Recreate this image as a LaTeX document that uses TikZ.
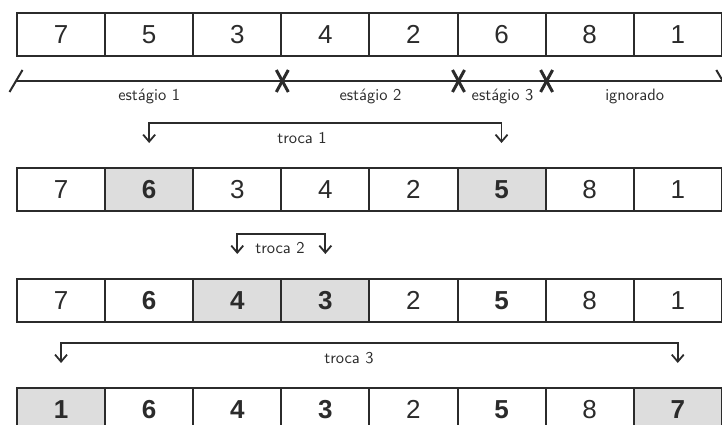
\documentclass[tikz,border=0pt]{standalone}
\usepackage{fontspec}
\newfontfamily\digitfont{Liberation Sans}
\newfontfamily\lblfont{lmsans10-regular.otf}
\usetikzlibrary{arrows.meta,calc}
\definecolor{cellgray}{HTML}{DDDDDD}
\definecolor{ink}{HTML}{2B2B2B}
\tikzset{
  cell/.style={draw=ink, line width=2pt, minimum width=88.1pt, minimum height=43pt,
    inner sep=0pt, anchor=north west, text=ink,
    font=\digitfont\fontsize{26}{26}\selectfont},
  lbl/.style={font=\lblfont\fontsize{16.5}{18}\selectfont, text=ink, inner sep=0pt},
  axis/.style={draw=ink, line width=2pt},
  xmark/.style={draw=ink, line width=3pt},
  swap/.style={draw=ink, line width=1.8pt,
    {Straight Barb[length=7pt,width=12pt]}-{Straight Barb[length=7pt,width=12pt]}},
}
\begin{document}
\begin{tikzpicture}[x=1pt,y=-1pt]
\useasboundingbox (0,0) rectangle (722,425);
% row 1
\foreach \v [count=\i] in {7,5,3,4,2,6,8,1}
  \node[cell] (a\i) at ({16+88.1*(\i-1)},12) {\v};
% row 2
\foreach \v/\f/\w [count=\i] in {7/white/\mdseries,6/cellgray/\bfseries,3/white/\mdseries,4/white/\mdseries,2/white/\mdseries,5/cellgray/\bfseries,8/white/\mdseries,1/white/\mdseries}
  \node[cell,fill=\f] (b\i) at ({16+88.1*(\i-1)},167) {\w\v};
% row 3
\foreach \v/\f/\w [count=\i] in {7/white/\mdseries,6/white/\bfseries,4/cellgray/\bfseries,3/cellgray/\bfseries,2/white/\mdseries,5/white/\bfseries,8/white/\mdseries,1/white/\mdseries}
  \node[cell,fill=\f] (c\i) at ({16+88.1*(\i-1)},278) {\w\v};
% row 4
\foreach \v/\f/\w [count=\i] in {1/cellgray/\bfseries,6/white/\bfseries,4/white/\bfseries,3/white/\bfseries,2/white/\mdseries,5/white/\bfseries,8/white/\mdseries,7/cellgray/\bfseries}
  \node[cell,fill=\f] (d\i) at ({16+88.1*(\i-1)},387) {\w\v};

% timeline
\coordinate (t0) at ($(a1.south west)+(0,24)$);
\coordinate (t1) at ($(a8.south east)+(0,24)$);
\coordinate (x1) at ($(a3.south east)+(0,24)$);
\coordinate (x2) at ($(a5.south east)+(0,24)$);
\coordinate (x3) at ($(a6.south east)+(0,24)$);
\draw[axis] (t0) -- (t1);
\draw[axis] ($(t0)+(-6.5,11)$) -- ($(t0)+(6.5,-11)$);
\draw[axis] ($(t1)+(-6.5,-11)$) -- ($(t1)+(6.5,11)$);
\foreach \c in {x1,x2,x3}{
  \draw[xmark] ($(\c)+(-6,-11)$) -- ($(\c)+(6,11)$);
  \draw[xmark] ($(\c)+(6,-11)$) -- ($(\c)+(-6,11)$);
}
\node[lbl] (s1) at ($(t0)!0.5!(x1)+(0,15)$) {estágio 1};
\node[lbl] (s2) at ($(x1)!0.5!(x2)+(0,15)$) {estágio 2};
\node[lbl] (s3) at ($(x2)!0.5!(x3)+(0,15)$) {estágio 3};
\node[lbl] (s4) at ($(x3)!0.5!(t1)+(0,15)$) {ignorado};

% swaps
\draw[swap] ($(b2.north)+(0,-24)$) -- ++(0,-20) -| ($(b6.north)+(0,-24)$);
\node[lbl] (l1) at (302,138) {troca 1};
\draw[swap] ($(c3.north)+(0,-24)$) -- ++(0,-20) -| ($(c4.north)+(0,-24)$);
\node[lbl] (l2) at (280,248) {troca 2};
\draw[swap] ($(d1.north)+(0,-24)$) -- ++(0,-20) -| ($(d8.north)+(0,-24)$);
\node[lbl] (l3) at (349,358) {troca 3};
\end{tikzpicture}
\end{document}
